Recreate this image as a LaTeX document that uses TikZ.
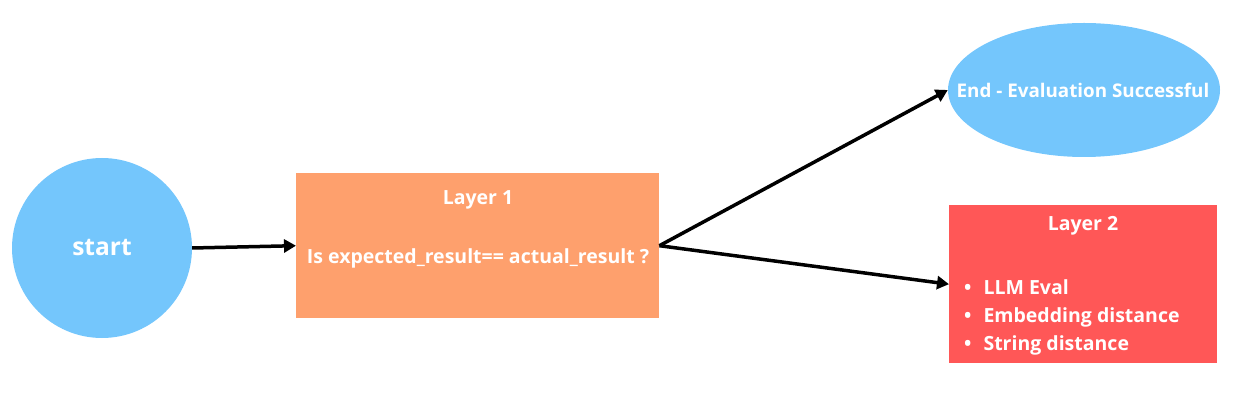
\documentclass[tikz,border=0pt]{standalone}
\usepackage{fontspec}
\setmainfont{Open Sans}
\usetikzlibrary{arrows.meta,%
                shapes.geometric}
\definecolor{skyblue}{HTML}{74C6FC}
\definecolor{peach}{HTML}{FEA06D}
\definecolor{coral}{HTML}{FF5757}

\begin{document}
\begin{tikzpicture}
  [x=1pt,y=-1pt,every node/.style={text=white,inner sep=0pt,font=\bfseries\fontsize{19.5}{28}\selectfont},
   box/.style={rectangle,anchor=north west},
   link/.style={line width=3.5pt,-{Triangle[length=12pt,width=13pt]}}]
  \useasboundingbox (0,0) rectangle (1238,411);
  \node[circle,fill=skyblue,minimum size=180pt,font=\bfseries\fontsize{24.5}{28}\selectfont] (start) at (102,248) {start};
  \node[box,fill=peach,minimum width=363pt,minimum height=145pt] (l1) at (296,173) {};
  \node[ellipse,fill=skyblue,minimum width=272pt,minimum height=134pt] (end) at (1084,90) {};
  \node[box,fill=coral,minimum width=268pt,minimum height=158pt] (l2) at (949,205) {};
  \node[font=\bfseries\fontsize{18.8}{22}\selectfont] (te) at (1083,90) {End - Evaluation Successful};
  \node (t1) at (478,200) {Layer 1};
  \node (q1) at (478,258) {Is expected\_result== actual\_result ?};
  \node (t2) at (1083,226) {Layer 2};
  \node[anchor=west,align=left] (b2) at (964,317)
    {\textbullet\hspace{12pt}LLM Eval\\ \textbullet\hspace{12pt}Embedding distance\\ \textbullet\hspace{12pt}String distance};
  \foreach \from/\to in {start.east/l1.west,l1.east/end.west,l1.east/l2.west}
    \draw[link] (\from) -- (\to);
\end{tikzpicture}
\end{document}
